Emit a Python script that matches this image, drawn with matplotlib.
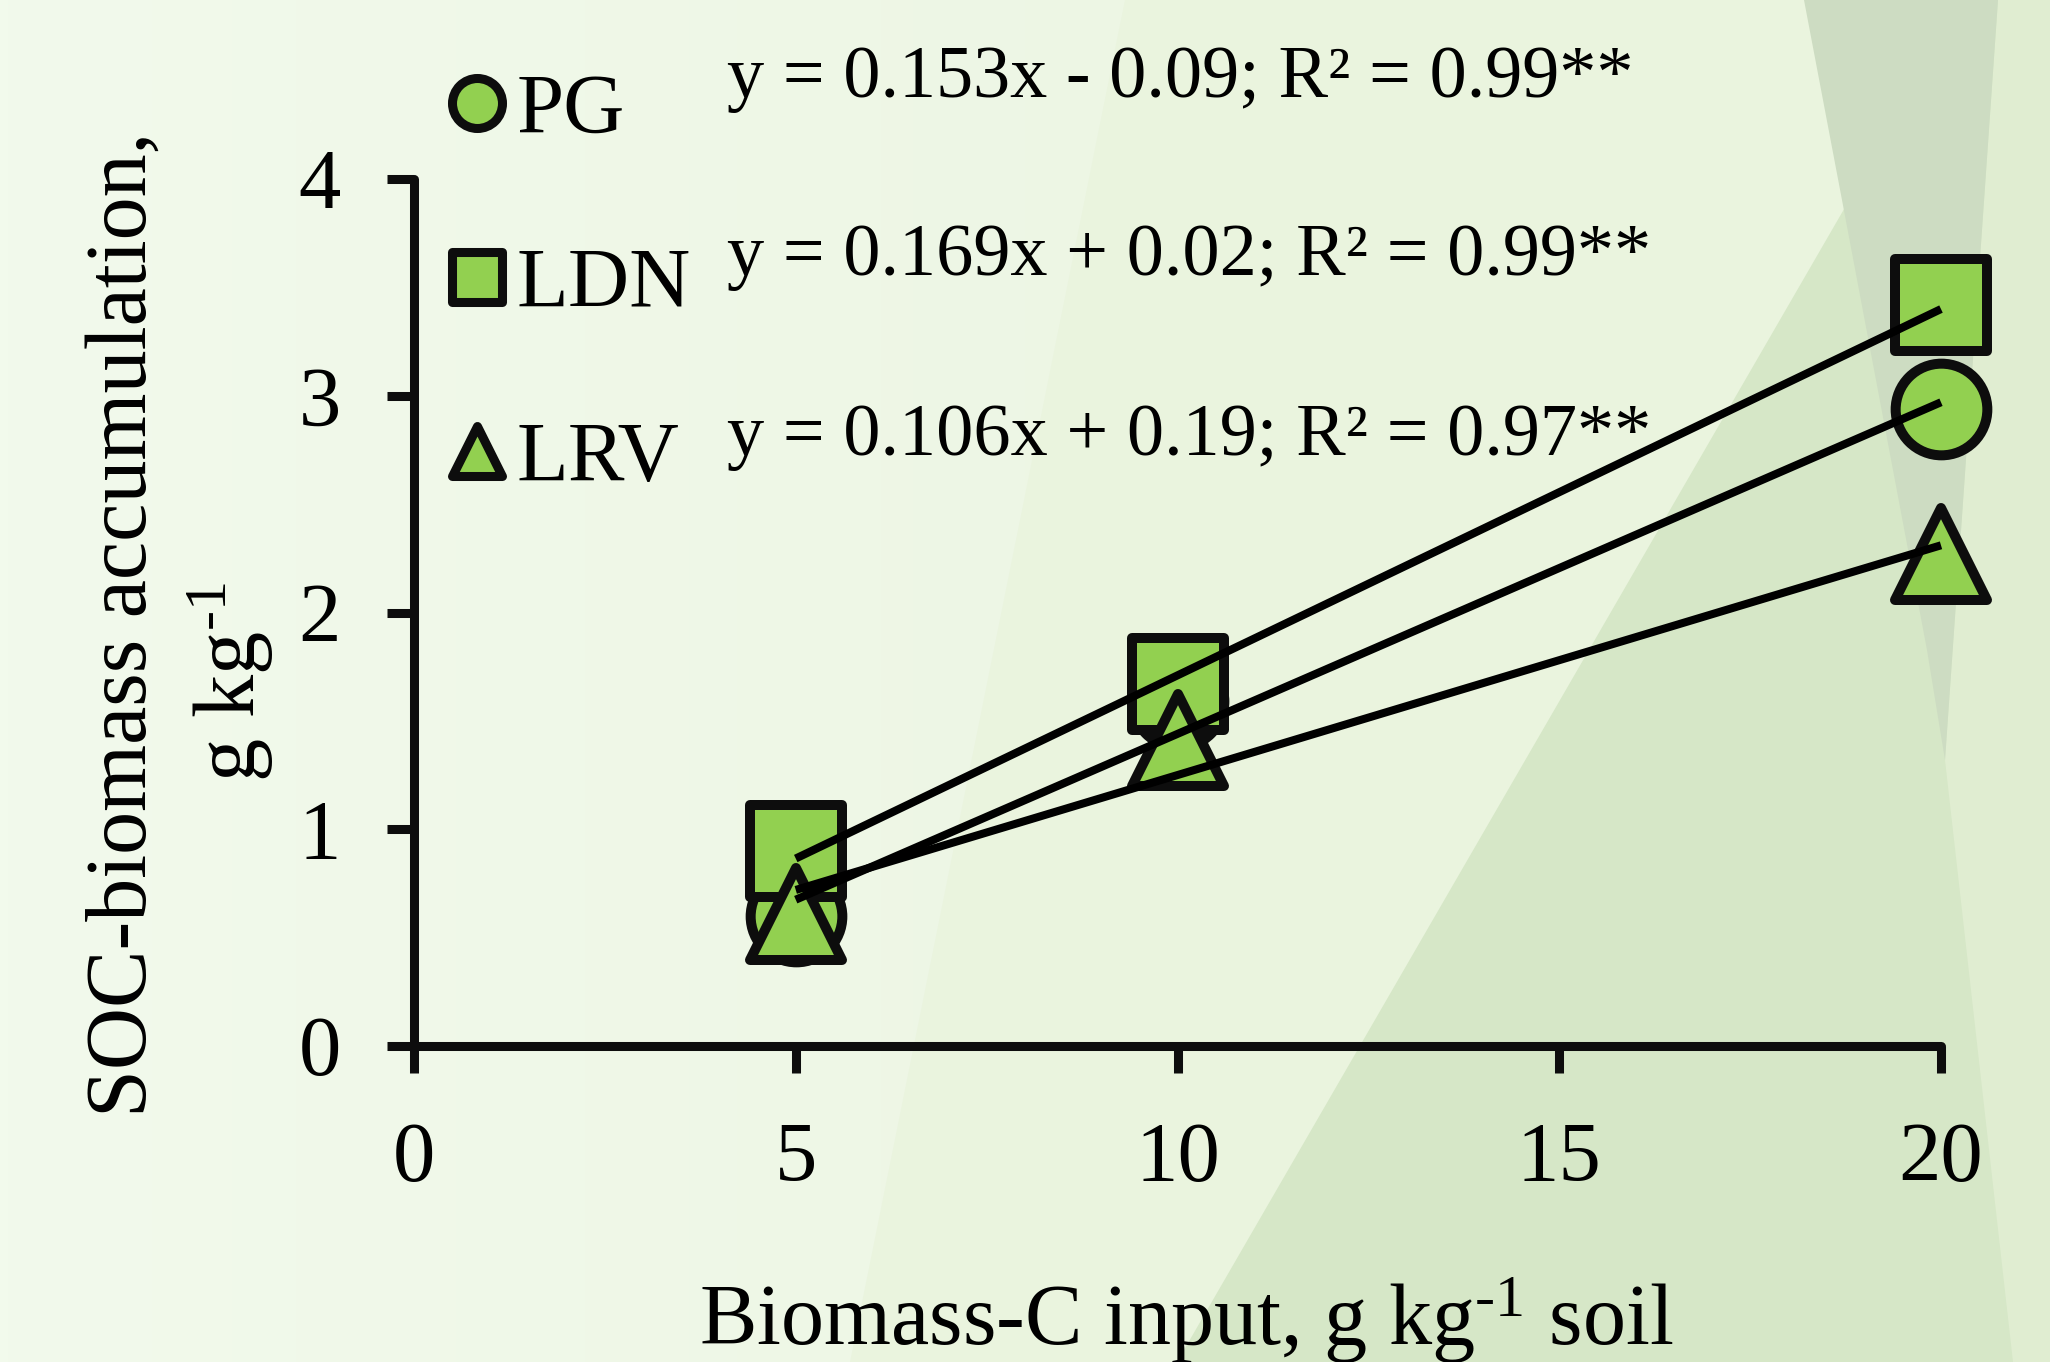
import matplotlib
matplotlib.use("Agg")
import matplotlib.pyplot as plt
from matplotlib.lines import Line2D
from matplotlib.markers import MarkerStyle
from matplotlib.patches import Polygon
import numpy as np

plt.rcParams['font.family'] = ['Liberation Serif', 'DejaVu Serif']
plt.rcParams['mathtext.fontset'] = 'custom'
plt.rcParams['mathtext.rm'] = 'Liberation Serif'
plt.rcParams['mathtext.it'] = 'Liberation Serif:italic'

# data
biomass_c = [5, 10, 20]
treatments = ["PG", "LDN", "LRV"]
soc_pg = [0.60, 1.59, 2.94]
soc_ldn = [0.90, 1.67, 3.42]
soc_lrv = [0.61, 1.41, 2.27]
slopes = [0.153, 0.169, 0.106]
intercepts = [-0.09, 0.02, 0.19]
r2 = [0.99, 0.99, 0.97]
xticks = [0, 5, 10, 15, 20]
yticks = [0, 1, 2, 3, 4]

markers = ["o", "s", "^"]
fill = "#92d050"
edge = "#0d0d0d"
sup = "$\\mathregular{^{\\text{-}1}}$"

W, H = 2050, 1362
fig = plt.figure(figsize=(W / 100, H / 100), dpi=100)

# background shapes (figure pixels, y down)
bg = fig.add_axes([0, 0, 1, 1], zorder=-5)
bg.set_xlim(0, W)
bg.set_ylim(H, 0)
bg.axis("off")
grad = np.linspace(0, 1, 256)[None, :]
base0 = np.array([242, 250, 236]) / 255
base1 = np.array([233, 243, 222]) / 255
img = base0[None, None, :] * (1 - grad[..., None]) + base1[None, None, :] * grad[..., None]
bg.imshow(img, extent=[0, W, H, 0], aspect="auto")
bg.add_patch(Polygon([(1125, 0), (850, H), (W, H), (W, 0)], closed=True,
                     fc="#eaf4de", ec="none"))
bg.add_patch(Polygon([(1177, H), (1965, 0), (W, 0), (W, H)], closed=True,
                     fc="#d6e7c7", ec="none"))
bg.add_patch(Polygon([(1998, 0), (W, 0), (W, H), (2013, H), (1945, 760)], closed=True,
                     fc="#e0edd1", ec="none"))
bg.add_patch(Polygon([(1804, 0), (1998, 0), (1945, 760), (1927, 650), (1842, 200)],
                     closed=True, fc="#cddcc2", ec="none"))

ax = fig.add_axes([414 / W, 1 - 1046 / H, (1941 - 414) / W, (1046 - 179) / H])
ax.patch.set_alpha(0)

series = [soc_pg, soc_ldn, soc_lrv]
for i, (vals, m) in enumerate(zip(series, markers)):
    ax.plot(biomass_c, vals, linestyle="none",
            marker=MarkerStyle(m, joinstyle="round"), markersize=66,
            markerfacecolor=fill, markeredgecolor=edge, markeredgewidth=7.2,
            zorder=3 + i, clip_on=False)

xs = np.array([biomass_c[0], biomass_c[-1]])
for k in range(3):
    ax.plot(xs, slopes[k] * xs + intercepts[k], color="black", lw=5.8,
            solid_capstyle="butt", zorder=10, clip_on=False)

ax.set_xlim(0, 20)
ax.set_ylim(0, 4)
ax.set_xticks(xticks)
ax.set_yticks(yticks)
for s in ["top", "right"]:
    ax.spines[s].set_visible(False)
for s in ["left", "bottom"]:
    ax.spines[s].set_linewidth(6.5)
    ax.spines[s].set_color(edge)
    ax.spines[s].set_capstyle("round")
ax.tick_params(axis="both", direction="out", length=19.5, width=6.5,
               color=edge, labelsize=61)
ax.tick_params(axis="y", pad=33)
ax.tick_params(axis="x", pad=35)

# axis titles
fig.text(1186 / W, 1 - 1345 / H, "Biomass-C input, g kg" + sup + " soil",
         fontsize=62, ha="center", va="baseline")
fig.text(146 / W, 1 - 624 / H, "SOC-biomass accumulation,", fontsize=62,
         rotation=90, rotation_mode="anchor", ha="center", va="baseline")
fig.text(255 / W, 1 - 682 / H, "g kg" + sup, fontsize=62,
         rotation=90, rotation_mode="anchor", ha="center", va="baseline")

# legend
handles = [Line2D([], [], linestyle="none", marker=MarkerStyle(m, joinstyle="round"),
                  markersize=36, markerfacecolor=fill, markeredgecolor=edge,
                  markeredgewidth=6.5) for m in markers]
fig.legend(handles, treatments, loc="upper left",
           bbox_to_anchor=(447 / W, 1 - 73 / H), frameon=False, fontsize=61,
           borderpad=0, borderaxespad=0, handlelength=0.7, handletextpad=0.12,
           labelspacing=1.145)

# regression equations
eq_base = [97, 275, 455]
for k in range(3):
    sign = "-" if intercepts[k] < 0 else "+"
    txt = f"y = {slopes[k]:.3f}x {sign} {abs(intercepts[k]):.2f}; R\u00b2 = {r2[k]:.2f}**"
    fig.text(727 / W, 1 - eq_base[k] / H, txt, fontsize=53.5, ha="left", va="baseline")

fig.savefig("out.png", dpi=100)
